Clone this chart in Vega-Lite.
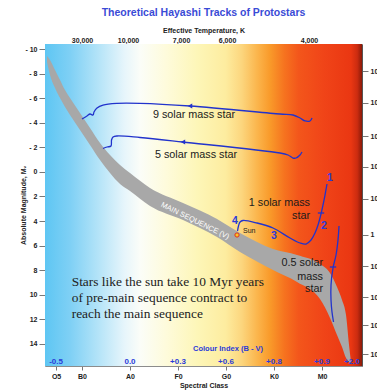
{
  "$schema": "https://vega.github.io/schema/vega-lite/v6.json",
  "width": 317,
  "height": 322,
  "autosize": {"type": "none"},
  "padding": {"left": 45, "top": 44, "right": 15, "bottom": 26},
  "background": "white",
  "title": {"text": "Theoretical Hayashi Tracks of Protostars", "font": "Liberation Sans", "fontSize": 10.5, "fontWeight": "bold", "color": "#3a4bd6", "anchor": "middle", "offset": 8},
  "config": {
    "view": {"stroke": null},
    "axis": {"labelFont": "Liberation Sans", "labelFontSize": 7, "labelFontWeight": "bold", "labelColor": "#222222", "titleFont": "Liberation Sans", "titleFontSize": 7, "titleFontWeight": "bold", "titleColor": "#222222", "tickColor": "#555555", "tickWidth": 0.8, "domainColor": "#8c8c8c", "domainWidth": 1, "grid": false, "zindex": 1}
  },
  "datasets": {
    "ms": [
      {"spec": 0.271, "top": -9.43, "bottom": -8.94},
      {"spec": 0.333, "top": -9.105, "bottom": -7.884},
      {"spec": 0.4375, "top": -8.291, "bottom": -6.827},
      {"spec": 0.5417, "top": -7.478, "bottom": -6.013},
      {"spec": 0.6458, "top": -6.664, "bottom": -5.281},
      {"spec": 0.75, "top": -6.013, "bottom": -4.63},
      {"spec": 0.9583, "top": -4.792, "bottom": -3.409},
      {"spec": 1.1667, "top": -3.572, "bottom": -2.189},
      {"spec": 1.375, "top": -2.352, "bottom": -0.968},
      {"spec": 1.5833, "top": -1.375, "bottom": 0.09},
      {"spec": 1.7917, "top": -0.561, "bottom": 0.985},
      {"spec": 2.0, "top": 0.09, "bottom": 1.554},
      {"spec": 2.4167, "top": 1.31, "bottom": 2.775},
      {"spec": 3.1042, "top": 2.53, "bottom": 3.914},
      {"spec": 3.8125, "top": 3.832, "bottom": 5.297},
      {"spec": 4.2917, "top": 4.972, "bottom": 6.518},
      {"spec": 4.9792, "top": 6.274, "bottom": 7.982},
      {"spec": 5.4792, "top": 6.762, "bottom": 8.959},
      {"spec": 5.9583, "top": 7.494, "bottom": 10.342},
      {"spec": 6.1667, "top": 8.227, "bottom": 11.888},
      {"spec": 6.3125, "top": 9.365, "bottom": 13.271},
      {"spec": 6.4167, "top": 10.423, "bottom": 14.248},
      {"spec": 6.5, "top": 11.644, "bottom": 15.142},
      {"spec": 6.5625, "top": 14.085, "bottom": 15.468},
      {"spec": 6.6042, "top": 15.468, "bottom": 15.55}
    ],
    "tracks": [
      {"track": "9", "i": 1, "spec": 5.792, "mag": -4.386},
      {"track": "9", "i": 2, "spec": 5.75, "mag": -4.142},
      {"track": "9", "i": 3, "spec": 5.646, "mag": -4.142},
      {"track": "9", "i": 4, "spec": 5.542, "mag": -4.386},
      {"track": "9", "i": 5, "spec": 5.396, "mag": -4.63},
      {"track": "9", "i": 6, "spec": 5.125, "mag": -4.711},
      {"track": "9", "i": 7, "spec": 3.25, "mag": -5.362},
      {"track": "9", "i": 8, "spec": 2.208, "mag": -5.582},
      {"track": "9", "i": 9, "spec": 1.729, "mag": -5.582},
      {"track": "9", "i": 10, "spec": 1.4375, "mag": -5.443},
      {"track": "9", "i": 11, "spec": 1.3125, "mag": -5.199},
      {"track": "9", "i": 12, "spec": 1.25, "mag": -4.874},
      {"track": "9", "i": 13, "spec": 1.229, "mag": -4.63},
      {"track": "9", "i": 14, "spec": 1.167, "mag": -4.711},
      {"track": "9", "i": 15, "spec": 1.104, "mag": -4.548},
      {"track": "9", "i": 16, "spec": 1.0, "mag": -4.304},
      {"track": "5", "i": 1, "spec": 5.583, "mag": -1.619},
      {"track": "5", "i": 2, "spec": 5.542, "mag": -1.375},
      {"track": "5", "i": 3, "spec": 5.458, "mag": -1.131},
      {"track": "5", "i": 4, "spec": 5.396, "mag": -1.131},
      {"track": "5", "i": 5, "spec": 5.292, "mag": -1.375},
      {"track": "5", "i": 6, "spec": 5.125, "mag": -1.538},
      {"track": "5", "i": 7, "spec": 3.104, "mag": -2.433},
      {"track": "5", "i": 8, "spec": 2.208, "mag": -2.799},
      {"track": "5", "i": 9, "spec": 1.729, "mag": -2.921},
      {"track": "5", "i": 10, "spec": 1.646, "mag": -2.84},
      {"track": "5", "i": 11, "spec": 1.615, "mag": -2.596},
      {"track": "5", "i": 12, "spec": 1.604, "mag": -2.107},
      {"track": "5", "i": 13, "spec": 1.521, "mag": -2.026},
      {"track": "5", "i": 14, "spec": 1.4375, "mag": -1.904},
      {"track": "1", "i": 1, "spec": 6.104, "mag": 0.985},
      {"track": "1", "i": 2, "spec": 6.0625, "mag": 1.88},
      {"track": "1", "i": 3, "spec": 6.021, "mag": 2.693},
      {"track": "1", "i": 4, "spec": 5.979, "mag": 3.426},
      {"track": "1", "i": 5, "spec": 5.917, "mag": 4.321},
      {"track": "1", "i": 6, "spec": 5.854, "mag": 4.972},
      {"track": "1", "i": 7, "spec": 5.771, "mag": 5.541},
      {"track": "1", "i": 8, "spec": 5.667, "mag": 5.867},
      {"track": "1", "i": 9, "spec": 5.542, "mag": 5.785},
      {"track": "1", "i": 10, "spec": 5.333, "mag": 5.378},
      {"track": "1", "i": 11, "spec": 4.979, "mag": 4.565},
      {"track": "1", "i": 12, "spec": 4.646, "mag": 4.158},
      {"track": "1", "i": 13, "spec": 4.354, "mag": 3.954},
      {"track": "1", "i": 14, "spec": 4.292, "mag": 4.076},
      {"track": "1", "i": 15, "spec": 4.26, "mag": 4.402},
      {"track": "1", "i": 16, "spec": 4.24, "mag": 4.809},
      {"track": "0.5", "i": 1, "spec": 6.354, "mag": 4.402},
      {"track": "0.5", "i": 2, "spec": 6.333, "mag": 5.541},
      {"track": "0.5", "i": 3, "spec": 6.292, "mag": 6.762},
      {"track": "0.5", "i": 4, "spec": 6.229, "mag": 7.819},
      {"track": "0.5", "i": 5, "spec": 6.1875, "mag": 9.203},
      {"track": "0.5", "i": 6, "spec": 6.1875, "mag": 10.423},
      {"track": "0.5", "i": 7, "spec": 6.208, "mag": 11.399},
      {"track": "0.5", "i": 8, "spec": 6.24, "mag": 12.213}
    ],
    "arrows": [
      {"spec": 3.25, "mag": -5.362},
      {"spec": 3.104, "mag": -2.433}
    ],
    "trackTicks": [
      {"spec": 5.979, "mag": 3.344},
      {"spec": 6.229, "mag": 7.738}
    ]
  },
  "layer": [
    {
      "data": {"values": [{"a": 1}]},
      "mark": {"type": "rect", "fill": {"gradient": "linear", "x1": 0, "y1": 0, "x2": 1, "y2": 0, "stops": [
        {"offset": 0, "color": "#5ec6f3"},
        {"offset": 0.08, "color": "#7fd0f5"},
        {"offset": 0.17, "color": "#b5e4f8"},
        {"offset": 0.25, "color": "#e6f5fb"},
        {"offset": 0.3, "color": "#fbfdf8"},
        {"offset": 0.38, "color": "#fefbdc"},
        {"offset": 0.48, "color": "#fdf6b8"},
        {"offset": 0.57, "color": "#fdec9f"},
        {"offset": 0.62, "color": "#fcd67e"},
        {"offset": 0.67, "color": "#fbb54c"},
        {"offset": 0.71, "color": "#f99a2a"},
        {"offset": 0.755, "color": "#f6731f"},
        {"offset": 0.8, "color": "#f3561b"},
        {"offset": 0.88, "color": "#f04418"},
        {"offset": 0.965, "color": "#ea3712"},
        {"offset": 0.985, "color": "#cc2c10"},
        {"offset": 1, "color": "#8a1a08"}
      ]}},
      "encoding": {
        "x": {"datum": 0.229, "type": "quantitative", "scale": {"domain": [0.229, 6.833], "nice": false, "zero": false},
          "axis": {"orient": "bottom", "values": [0.46, 1, 2, 3, 4, 5, 6], "labelExpr": "{'0.46':'O5','1':'B0','2':'A0','3':'F0','4':'G0','5':'K0','6':'M0'}[datum.value + '']", "title": "Spectral Class", "tickSize": 4, "labelPadding": 2, "titlePadding": 2}},
        "x2": {"datum": 6.833},
        "y": {"datum": -10.407, "type": "quantitative", "scale": {"domain": [-10.407, 15.793], "reverse": true, "nice": false, "zero": false},
          "axis": {"orient": "left", "values": [-10, -8, -6, -4, -2, 0, 2, 4, 6, 8, 10, 12, 14], "labelExpr": "datum.value < 0 ? '- ' + (-datum.value) : '' + datum.value", "title": "Absolute Magnitude, Mᵥ", "tickSize": 6, "labelPadding": 2, "titlePadding": -2}},
        "y2": {"datum": 15.793}
      }
    },
    {
      "data": {"name": "ms"},
      "mark": {"type": "area", "color": "#a8a8a8", "interpolate": "monotone"},
      "encoding": {
        "x": {"field": "spec", "type": "quantitative", "scale": {"domain": [0.229, 6.833], "nice": false, "zero": false}, "axis": null},
        "y": {"field": "top", "type": "quantitative", "scale": {"domain": [-10.407, 15.793], "reverse": true, "nice": false, "zero": false}, "axis": null},
        "y2": {"field": "bottom"}
      }
    },
    {
      "data": {"name": "tracks"},
      "mark": {"type": "line", "color": "#2233cc", "strokeWidth": 1.3, "interpolate": "catmull-rom"},
      "encoding": {
        "x": {"field": "spec", "type": "quantitative", "scale": {"domain": [0.229, 6.833], "nice": false, "zero": false},
          "axis": {"orient": "top", "values": [1, 1.958, 3.063, 4.021, 5.729], "labelExpr": "{'1':'30,000','1.958':'10,000','3.063':'7,000','4.021':'6,000','5.729':'4,000'}[datum.value + '']", "title": "Effective Temperature, K", "tickSize": -5, "labelPadding": 6, "titlePadding": 3}},
        "y": {"field": "mag", "type": "quantitative", "scale": {"domain": [-10.407, 15.793], "reverse": true, "nice": false, "zero": false},
          "axis": {"orient": "right", "values": [-8.21, -5.61, -2.92, -0.4, 2.2, 5.13, 7.66, 10.18, 12.46, 14.82], "labelExpr": "{'-8.21':'10⁵','-5.61':'10⁴','-2.92':'10³','-0.4':'10²','2.2':'10¹','5.13':'1','7.66':'10⁻¹','10.18':'10⁻²','12.46':'10⁻³','14.82':'10⁻⁴'}[datum.value + '']", "title": null, "tickSize": 6, "labelPadding": 2, "domainColor": "#555555"}},
        "detail": {"field": "track"},
        "order": {"field": "i"}
      }
    },
    {
      "data": {"name": "arrows"},
      "mark": {"type": "point", "shape": "triangle-left", "filled": true, "size": 26, "color": "#2233cc", "opacity": 1},
      "encoding": {
        "x": {"field": "spec", "type": "quantitative", "axis": null},
        "y": {"field": "mag", "type": "quantitative", "axis": null}
      }
    },
    {
      "data": {"name": "trackTicks"},
      "mark": {"type": "point", "shape": "stroke", "filled": false, "size": 40, "strokeWidth": 1.3, "color": "#2233cc", "opacity": 1},
      "encoding": {
        "x": {"field": "spec", "type": "quantitative", "axis": null},
        "y": {"field": "mag", "type": "quantitative", "axis": null}
      }
    },
    {
      "data": {"values": [{"spec": 4.229, "mag": 5.134}]},
      "mark": {"type": "point", "shape": "circle", "filled": true, "size": 18, "fill": "#f9c623", "stroke": "#e3341b", "strokeWidth": 1, "opacity": 1},
      "encoding": {
        "x": {"field": "spec", "type": "quantitative", "axis": null},
        "y": {"field": "mag", "type": "quantitative", "axis": null}
      }
    },
    {
      "data": {"values": [
        {"label": "9 solar mass star", "spec": 3.333, "mag": -4.63},
        {"label": "5 solar mass star", "spec": 3.375, "mag": -1.375}
      ]},
      "mark": {"type": "text", "font": "Liberation Sans", "fontSize": 10.8, "color": "#1a1a1a", "align": "center", "baseline": "middle"},
      "encoding": {
        "x": {"field": "spec", "type": "quantitative", "axis": null},
        "y": {"field": "mag", "type": "quantitative", "axis": null},
        "text": {"field": "label"}
      }
    },
    {
      "data": {"values": [
        {"label": "1 solar mass", "spec": 5.75, "mag": 2.53},
        {"label": "star", "spec": 5.75, "mag": 3.588},
        {"label": "0.5 solar", "spec": 6.021, "mag": 7.437},
        {"label": "mass", "spec": 6.021, "mag": 8.527},
        {"label": "star", "spec": 6.021, "mag": 9.553}
      ]},
      "mark": {"type": "text", "font": "Liberation Sans", "fontSize": 10.8, "color": "#1a1a1a", "align": "right", "baseline": "middle"},
      "encoding": {
        "x": {"field": "spec", "type": "quantitative", "axis": null},
        "y": {"field": "mag", "type": "quantitative", "axis": null},
        "text": {"field": "label"}
      }
    },
    {
      "data": {"values": [{"label": "Sun", "spec": 4.354, "mag": 4.809}]},
      "mark": {"type": "text", "font": "Liberation Sans", "fontSize": 7, "color": "#1a1a1a", "align": "left", "baseline": "middle"},
      "encoding": {
        "x": {"field": "spec", "type": "quantitative", "axis": null},
        "y": {"field": "mag", "type": "quantitative", "axis": null},
        "text": {"field": "label"}
      }
    },
    {
      "data": {"values": [
        {"label": "1", "spec": 6.167, "mag": 0.496},
        {"label": "2", "spec": 6.042, "mag": 4.402},
        {"label": "3", "spec": 5.0, "mag": 5.216},
        {"label": "4", "spec": 4.1875, "mag": 3.995}
      ]},
      "mark": {"type": "text", "font": "Liberation Sans", "fontSize": 10.5, "fontWeight": "bold", "color": "#2b3bd9", "align": "center", "baseline": "middle"},
      "encoding": {
        "x": {"field": "spec", "type": "quantitative", "axis": null},
        "y": {"field": "mag", "type": "quantitative", "axis": null},
        "text": {"field": "label"}
      }
    },
    {
      "data": {"values": [
        {"label": "Stars like the sun take 10 Myr years", "spec": 0.785, "mag": 8.959},
        {"label": "of pre-main sequence contract to", "spec": 0.785, "mag": 10.26},
        {"label": "reach the main sequence", "spec": 0.785, "mag": 11.562}
      ]},
      "mark": {"type": "text", "font": "Liberation Serif", "fontSize": 13.4, "color": "#222222", "align": "left", "baseline": "middle"},
      "encoding": {
        "x": {"field": "spec", "type": "quantitative", "axis": null},
        "y": {"field": "mag", "type": "quantitative", "axis": null},
        "text": {"field": "label"}
      }
    },
    {
      "data": {"values": [{"label": "MAIN SEQUENCE (V)", "spec": 3.354, "mag": 3.995}]},
      "mark": {"type": "text", "font": "Liberation Sans", "fontSize": 7.5, "color": "#ffffff", "align": "center", "baseline": "middle", "angle": 26},
      "encoding": {
        "x": {"field": "spec", "type": "quantitative", "axis": null},
        "y": {"field": "mag", "type": "quantitative", "axis": null},
        "text": {"field": "label"}
      }
    },
    {
      "data": {"values": [
        {"bv": "-0.5", "spec": 0.46},
        {"bv": "0.0", "spec": 2},
        {"bv": "+0.3", "spec": 3},
        {"bv": "+0.6", "spec": 4},
        {"bv": "+0.8", "spec": 5},
        {"bv": "+0.9", "spec": 6},
        {"bv": "+2.0", "spec": 6.625}
      ]},
      "mark": {"type": "text", "font": "Liberation Sans", "fontSize": 8, "fontWeight": "bold", "color": "#2b3bd9", "align": "center", "baseline": "middle"},
      "encoding": {
        "x": {"field": "spec", "type": "quantitative", "axis": null},
        "y": {"datum": 15.45, "type": "quantitative", "axis": null},
        "text": {"field": "bv"}
      }
    },
    {
      "data": {"values": [{"label": "Colour Index (B - V)", "spec": 4.042}]},
      "mark": {"type": "text", "font": "Liberation Sans", "fontSize": 7.5, "fontWeight": "bold", "color": "#2b3bd9", "align": "center", "baseline": "middle"},
      "encoding": {
        "x": {"field": "spec", "type": "quantitative", "axis": null},
        "y": {"datum": 14.45, "type": "quantitative", "axis": null},
        "text": {"field": "label"}
      }
    }
  ],
  "resolve": {"axis": {"x": "independent", "y": "independent"}}
}
